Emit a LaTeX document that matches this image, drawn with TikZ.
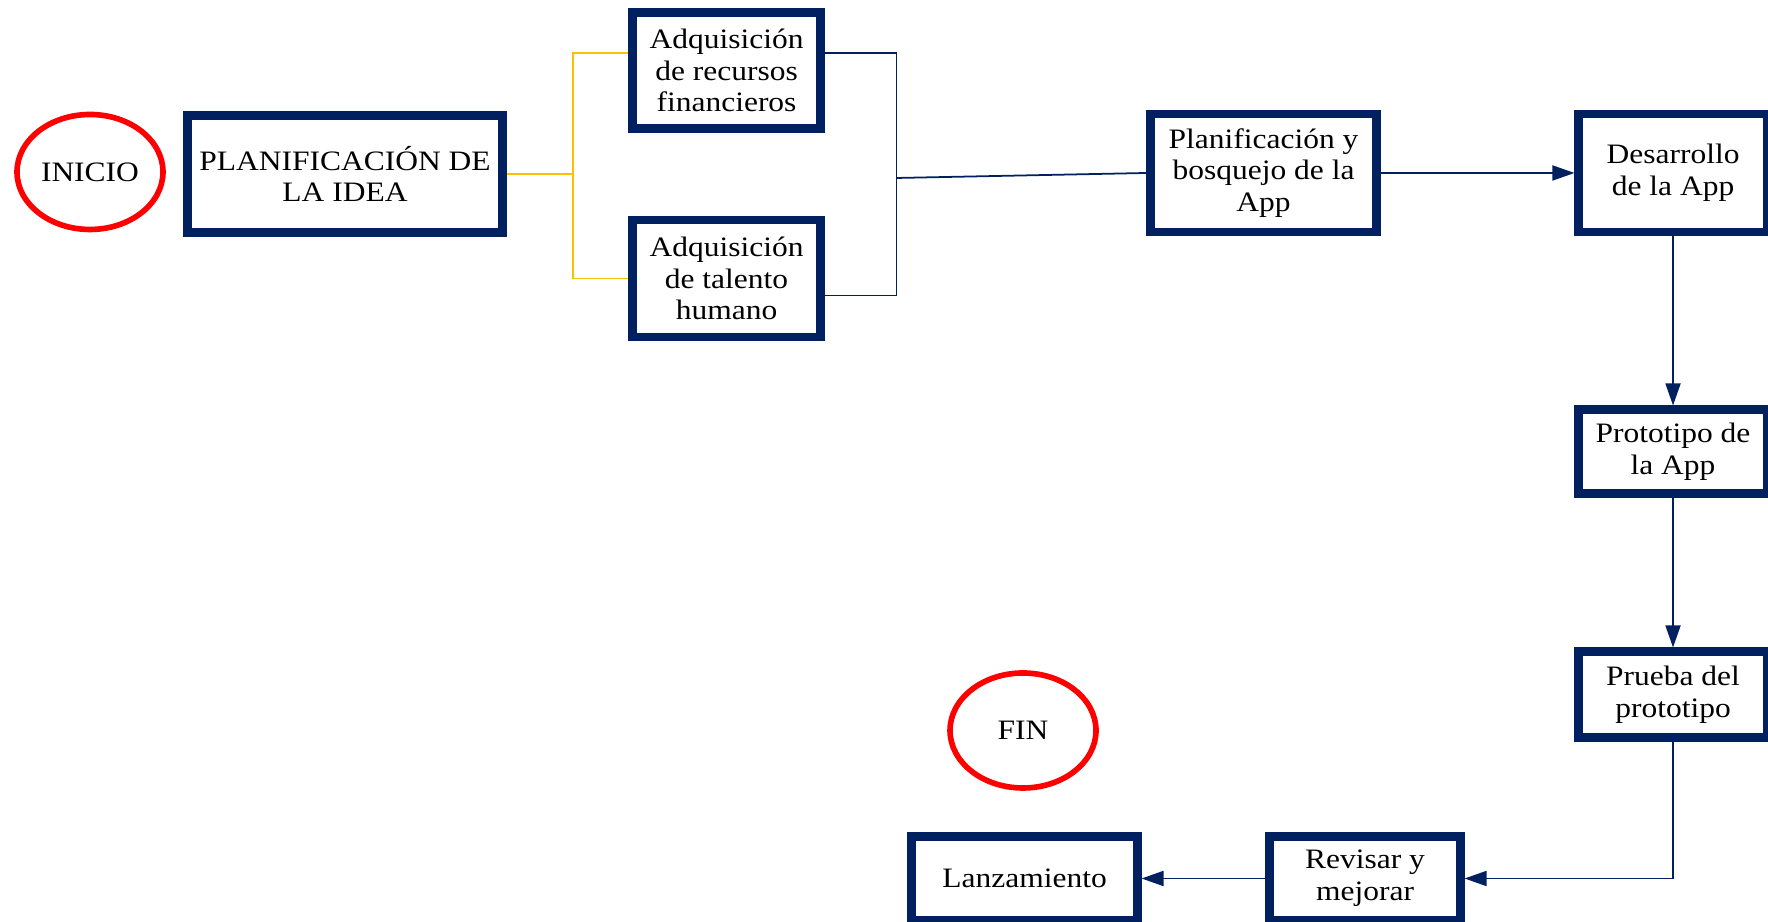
\documentclass[tikz,border=0pt]{standalone}
\usepackage{fontspec}
\setmainfont{Liberation Serif}[FakeStretch=1.12]
\usetikzlibrary{shapes.geometric,arrows.meta}
\definecolor{navy}{HTML}{002060}
\definecolor{amber}{HTML}{FFC000}

\begin{document}
\begin{tikzpicture}[font=\fontsize{8}{9}\selectfont]
  \tikzstyle{terminal} = [ellipse, draw=red, line width=1.6pt, minimum width=1.46cm, minimum height=1.15cm, inner sep=0pt];
  \tikzstyle{process} = [draw=navy, line width=2.3pt, align=center, inner sep=0pt, minimum width=1.89cm, minimum height=1.17cm];
  \tikzstyle{link} = [navy, line width=0.5pt];
  \tikzstyle{feed} = [amber, line width=0.5pt];
  \tikzstyle{flow} = [link, -{Triangle[length=0.22cm,width=0.15cm]}];

  \useasboundingbox (0,0) rectangle (17.68,9.22);

  \node[terminal] (inicio) at (0.90,7.50) {INICIO};
  \node[process, minimum width=3.15cm] (idea) at (3.45,7.48) {PLANIFICACIÓN DE\\LA IDEA};

  \node[process, minimum width=1.88cm, minimum height=1.16cm] (recursos) at (7.265,8.515) {Adquisición\\de recursos\\financieros};
  \node[process, minimum width=1.88cm] (talento) at (7.265,6.435) {Adquisición\\de talento\\humano};

  \node[process, minimum width=2.26cm, minimum height=1.18cm] (bosquejo) at (12.635,7.49) {Planificación y\\bosquejo de la\\App};
  \node[process, minimum height=1.18cm] (desarrollo) at (16.73,7.49) {Desarrollo\\de la App};
  \node[process, minimum height=0.84cm] (prototipo) at (16.73,4.705) {Prototipo de\\la App};
  \node[process, minimum height=0.86cm] (prueba) at (16.73,2.275) {Prueba del\\prototipo};

  \node[process, minimum width=1.91cm, minimum height=0.84cm] (revisar) at (13.65,0.435) {Revisar y\\mejorar};
  \node[process, minimum width=2.26cm, minimum height=0.84cm] (lanzamiento) at (10.245,0.435) {Lanzamiento};
  \node[terminal] (fin) at (10.23,1.915) {FIN};

  % reparto de la idea
  \coordinate (f1) at (5.73,8.69);
  \coordinate (f2) at (5.73,6.435);
  \draw[feed] (idea.east) -- (idea.east -| f1);
  \draw[feed] (recursos.west |- f1) -- (f1) -- (f2) -- (talento.west);

  % union de recursos
  \coordinate (j1) at (8.965,8.69);
  \coordinate (j2) at (8.965,6.266);
  \coordinate (j3) at (8.965,7.44);
  \draw[link] (recursos.east |- j1) -- (j1) -- (j2) -- (talento.east |- j2);
  \draw[link] (j3) -- (bosquejo.west);

  \draw[flow] (bosquejo) -- (desarrollo);
  \draw[flow] (desarrollo) -- (prototipo);
  \draw[flow] (prototipo) -- (prueba);
  \draw[flow] (prueba.south) |- (revisar.east);
  \draw[flow] (revisar) -- (lanzamiento);

\end{tikzpicture}
\end{document}
